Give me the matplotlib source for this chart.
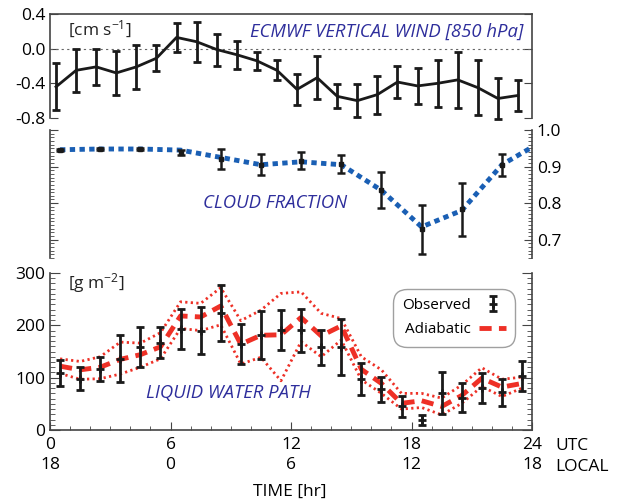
import numpy as np
import matplotlib
matplotlib.use("Agg")
import matplotlib.pyplot as plt
from matplotlib.ticker import MultipleLocator

plt.rcParams['font.family'] = ['Open Sans', 'DejaVu Sans']
plt.rcParams['mathtext.default'] = 'regular'
plt.rcParams['font.size'] = 12

# ---------------------------------------------------------------
# data
hours = np.arange(24)

# ECMWF vertical wind at 850 hPa [cm s-1]
wind_hr = hours + 0.3
wind = [-0.44, -0.25, -0.21, -0.28, -0.21, -0.11, 0.13, 0.08, -0.01, -0.07,
        -0.14, -0.25, -0.47, -0.335, -0.55, -0.60, -0.53, -0.385, -0.43, -0.40,
        -0.36, -0.45, -0.575, -0.54]
wind_err = [0.27, 0.245, 0.205, 0.25, 0.255, 0.15, 0.17, 0.23, 0.185, 0.16,
            0.105, 0.115, 0.18, 0.245, 0.14, 0.19, 0.22, 0.18, 0.21, 0.275,
            0.32, 0.32, 0.235, 0.18]

# cloud fraction (2-hourly)
cf_hr = np.arange(0.5, 23, 2)
cf = [0.946, 0.948, 0.947, 0.938, 0.921, 0.905, 0.916, 0.907, 0.836, 0.729,
      0.783, 0.903]
cf_err = [0.003, 0.002, 0.003, 0.006, 0.028, 0.028, 0.023, 0.024, 0.05, 0.067,
          0.072, 0.03]
cf_line_hr = list(cf_hr) + [24.0]
cf_line = [0.946, 0.948, 0.948, 0.945, 0.925, 0.905, 0.913, 0.905, 0.835, 0.735,
           0.78, 0.905, 0.953]

# liquid water path [g m-2]
lwp_hr = hours + 0.5
lwp_obs = [109, 98, 117, 136, 159, 167, 193, 190, 224, 164, 182, 191, 191, 158,
           159, 97, 78, 45, 20, 70, 62, 80, 72, 103]
lwp_err = [24, 22, 23, 45, 38, 30, 39, 45, 53, 38, 46, 38, 41, 34, 54, 31, 24,
           20, 9.5, 40, 27, 29, 25.5, 28]
adiab = [122, 115, 120, 135, 144, 159, 218, 216, 237, 164, 181, 182, 215, 180,
         199, 116, 89, 51, 56, 45, 66, 99, 82, 89]
adiab_hi = [136, 131, 140, 168, 166, 186, 245, 242, 272, 209, 229, 261, 264, 223,
            213, 140, 115, 70, 70, 61, 86, 119, 97, 101]
adiab_lo = [108, 97, 98, 107, 120, 136, 194, 190, 201, 126, 139, 94, 169, 140,
            172, 96, 70, 40, 43, 29, 51, 83, 64, 80]

utc_ticks = [0, 6, 12, 18, 24]
local_labels = ['18', '0', '6', '12', '18']

blue_txt = '#2e2e9c'
blue_line = '#1a5fb4'
red = '#ee3026'
spine_c = '#444444'
title_fs = 13.3

# ---------------------------------------------------------------
fig = plt.figure(figsize=(6.22, 5.04), dpi=100)
ax1 = fig.add_axes([0.0804, 0.7659, 0.775, 0.2063])
ax2 = fig.add_axes([0.0804, 0.4881, 0.775, 0.254])
ax3 = fig.add_axes([0.0804, 0.1468, 0.775, 0.3115])

for ax in (ax1, ax2, ax3):
    ax.set_xlim(0, 24)
    for s in ax.spines.values():
        s.set_color(spine_c)
        s.set_linewidth(1.2)
    ax.tick_params(which='both', direction='in', color=spine_c, labelsize=12.5)

# --- top panel
ax1.axhline(0, color='#666666', lw=0.8, ls=(0, (2, 3)))
ax1.errorbar(wind_hr, wind, yerr=wind_err, color='#1a1a1a', lw=2,
             elinewidth=2, capsize=3, capthick=2, clip_on=False)
ax1.set_ylim(-0.8, 0.4)
ax1.set_yticks([-0.8, -0.4, 0.0, 0.4])
ax1.set_yticklabels(['-0.8', '-0.4', '0.0', '0.4'])
ax1.tick_params(axis='y', left=True, right=True, length=6)
ax1.tick_params(axis='x', bottom=False, labelbottom=False)
ax1.spines['bottom'].set_visible(False)
ax1.text(0.037, 0.856, '[cm s$^{-1}$]', transform=ax1.transAxes,
         va='center', ha='left', color='#222222', fontsize=12.5)
ax1.text(0.983, 0.827, 'ECMWF VERTICAL WIND [850 hPa]', transform=ax1.transAxes,
         va='center', ha='right', color=blue_txt, style='italic',
         fontsize=title_fs)

# --- middle panel
ax2.plot(cf_line_hr, cf_line, color=blue_line, lw=3.5, ls=(0, (1.1, 0.9)))
ax2.errorbar(cf_hr, cf, yerr=cf_err, fmt='s', ms=3, color='#1a1a1a',
             elinewidth=1.8, capsize=3, capthick=1.8)
ax2.set_ylim(0.65, 1.0)
ax2.set_yticks([0.7, 0.8, 0.9, 1.0])
ax2.yaxis.set_minor_locator(MultipleLocator(0.01))
ax2.tick_params(axis='y', which='both', left=True, right=True,
                labelleft=False, labelright=True)
ax2.tick_params(axis='y', which='major', length=6)
ax2.tick_params(axis='y', which='minor', length=3)
ax2.tick_params(axis='x', bottom=False, labelbottom=False)
ax2.spines['top'].set_visible(False)
ax2.spines['bottom'].set_visible(False)
ax2.text(0.467, 0.43, 'CLOUD FRACTION', transform=ax2.transAxes,
         va='center', ha='center', color=blue_txt, style='italic',
         fontsize=title_fs)

# --- bottom panel
ax3.plot(lwp_hr, adiab_hi, color=red, lw=2.0, ls=(0, (0.8, 1.2)))
ax3.plot(lwp_hr, adiab_lo, color=red, lw=2.0, ls=(0, (0.8, 1.2)))
adl, = ax3.plot(lwp_hr, adiab, color=red, lw=3.5, ls=(0, (2.5, 1.5)),
                label='Adiabatic')
obs = ax3.errorbar(lwp_hr, lwp_obs, yerr=lwp_err, fmt='+', ms=6, mew=2,
                   color='#1a1a1a', elinewidth=2, capsize=3, capthick=2,
                   label='Observed')
ax3.set_ylim(0, 300)
ax3.set_yticks([0, 100, 200, 300])
ax3.yaxis.set_minor_locator(MultipleLocator(10))
ax3.tick_params(axis='y', which='both', left=True, right=True)
ax3.tick_params(axis='y', which='major', length=7)
ax3.tick_params(axis='y', which='minor', length=3.5)
ax3.spines['top'].set_visible(False)
ax3.set_xticks(utc_ticks)
ax3.set_xticklabels([f'{u}\n{l}' for u, l in zip(utc_ticks, local_labels)],
                    linespacing=1.3)
ax3.xaxis.set_minor_locator(MultipleLocator(1))
ax3.tick_params(axis='x', which='major', length=6, pad=5)
ax3.tick_params(axis='x', which='minor', length=3)
ax3.text(0.037, 0.936, '[g m$^{-2}$]', transform=ax3.transAxes,
         va='center', ha='left', color='#222222', fontsize=12.5)
ax3.text(0.371, 0.236, 'LIQUID WATER PATH', transform=ax3.transAxes,
         va='center', ha='center', color=blue_txt, style='italic',
         fontsize=title_fs)
ax3.text(1.048, -0.102, 'UTC', transform=ax3.transAxes, va='center', ha='left',
         fontsize=12.5)
ax3.text(1.048, -0.236, 'LOCAL', transform=ax3.transAxes, va='center', ha='left',
         fontsize=12.5)
fig.text(290 / 622, 1 - 492 / 504, 'TIME [hr]', ha='center', va='center',
         fontsize=12.5)

leg = ax3.legend([obs, adl], ['Observed', 'Adiabatic'], loc='upper left',
                 bbox_to_anchor=(0.712, 0.898), borderaxespad=0,
                 markerfirst=False, fontsize=11, frameon=True, fancybox=True,
                 edgecolor='#888888', handlelength=1.8, handletextpad=0.5,
                 borderpad=0.6, labelspacing=0.6)
leg.get_frame().set_linewidth(1.0)
leg.get_frame().set_boxstyle('round,pad=0,rounding_size=0.9')

fig.savefig('out.png', dpi=100)
